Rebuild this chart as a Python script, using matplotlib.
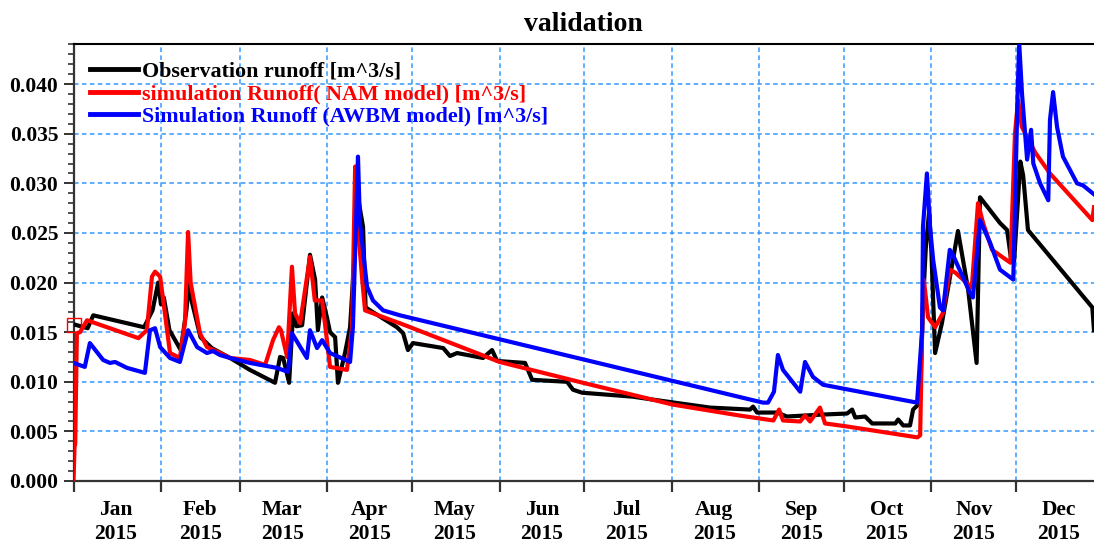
import numpy as np
import matplotlib
matplotlib.use("Agg")
import matplotlib.pyplot as plt
import matplotlib.dates as mdates
from matplotlib.ticker import MultipleLocator, FixedLocator, NullFormatter, FuncFormatter

# ---------------- data (day offset from 2015-01-01, runoff m^3/s) ----------------
obs_day = [0, 5, 7, 25, 28, 30, 31, 32, 34, 38, 40, 41, 42, 45, 49, 55.5, 62.5, 71.4,
           73.2, 74.3, 76.4, 77.8, 79, 81, 83.8, 85.6, 86.6, 88.1, 89.8, 90.9, 92.7,
           93.7, 96.2, 98, 100.8, 102.6, 103.5, 105.1, 114.6, 116.8, 118.5, 120.3, 131,
           133.4, 135.9, 145.1, 148.3, 150.1, 160, 162.5, 174.9, 177, 180.2, 198.2,
           205.4, 225.5, 239.7, 240.8, 242.2, 249.3, 252.8, 265.6, 274.1, 275.9, 277,
           280.5, 283, 291.2, 292.2, 294, 296.4, 297.5, 299.3, 300, 301, 302, 303.2, 304,
           305.3, 307.7, 313.4, 317, 320, 321.2, 328.3, 330.8, 332.2, 333.3, 335.5,
           336.5, 338.2, 361, 361.6]
obs_val = [0.0158, 0.0154, 0.0167, 0.0155, 0.0172, 0.0200, 0.0178, 0.0185, 0.0152,
           0.0132, 0.0172, 0.0200, 0.0180, 0.0145, 0.0134, 0.0124, 0.0112, 0.0099,
           0.0125, 0.0124, 0.0099, 0.0169, 0.0156, 0.0157, 0.0228, 0.0203, 0.0152,
           0.0185, 0.0165, 0.0150, 0.0145, 0.0099, 0.0129, 0.0155, 0.0286, 0.0256,
           0.0175, 0.0172, 0.0155, 0.0149, 0.0132, 0.0139, 0.0134, 0.0126, 0.0129,
           0.0124, 0.0132, 0.0121, 0.0119, 0.0102, 0.0100, 0.0092, 0.0089, 0.0085,
           0.0082, 0.0074, 0.0072, 0.0075, 0.0069, 0.0069, 0.0065, 0.0067, 0.0068,
           0.0072, 0.0064, 0.0065, 0.0058, 0.0058, 0.0062, 0.0056, 0.0056, 0.0072,
           0.0077, 0.0084, 0.0179, 0.0235, 0.0272, 0.0230, 0.0129, 0.0159, 0.0252,
           0.0193, 0.0119, 0.0286, 0.0260, 0.0253, 0.0224, 0.0222, 0.0322, 0.0308,
           0.0253, 0.0175, 0.0152]

nam_day = [0, 0.4, 0.6, 1.2, 2.3, 4.8, 23, 26, 27.8, 28.9, 30, 30.7, 34.2, 37.7, 39.5,
           40.6, 41.5, 44.8, 47.3, 51.9, 55.5, 62.5, 67.9, 70.7, 72.8, 73.5, 75.7, 77.4,
           78.5, 80.3, 83.8, 85.5, 88.1, 89.8, 90.9, 96.9, 98.7, 99.8, 100.5, 102.3,
           103.3, 114.6, 115.7, 151, 180.5, 212.4, 236, 248, 250, 251.4, 257.5, 259.2,
           261, 264.5, 266.3, 274, 299, 300, 300.7, 301.3, 302.8, 305.3, 308, 310.5,
           312.5, 318.3, 320.5, 322.3, 325.5, 332, 333.6, 334.7, 336, 340.8, 346, 361,
           361.6]
nam_val = [0.0, 0.0037, 0.0037, 0.0149, 0.0150, 0.0162, 0.0144, 0.0152, 0.0206, 0.0211,
           0.0208, 0.0206, 0.0129, 0.0124, 0.0160, 0.0251, 0.0200, 0.0149, 0.0135,
           0.0129, 0.0124, 0.0122, 0.0117, 0.0142, 0.0155, 0.0152, 0.0125, 0.0216,
           0.0169, 0.0159, 0.0226, 0.0182, 0.0182, 0.0142, 0.0115, 0.0112, 0.0155,
           0.0317, 0.0266, 0.0203, 0.0172, 0.0160, 0.0159, 0.0120, 0.0099, 0.0077,
           0.0066, 0.0061, 0.0072, 0.0061, 0.0060, 0.0066, 0.0060, 0.0074, 0.0058,
           0.0055, 0.0044, 0.0046, 0.0152, 0.0203, 0.0165, 0.0155, 0.0169, 0.0213,
           0.0210, 0.0195, 0.0280, 0.0260, 0.0233, 0.0220, 0.0350, 0.0384, 0.0357,
           0.0331, 0.0310, 0.0263, 0.0276]

awbm_day = [0, 4, 5.8, 10.5, 12.9, 14.7, 19, 25.3, 27.1, 28.9, 30.7, 34.2, 37.7, 40.6,
            43.8, 47.3, 49.4, 51.9, 55.5, 62.5, 72.1, 76, 77.4, 82.7, 83.8, 86.3, 88.1,
            90.9, 98, 99, 100.8, 101.5, 104, 106.1, 109.7, 115.7, 244.3, 246.1, 248.2,
            249.6, 251.4, 257.5, 259.2, 262, 265.6, 298.9, 300.7, 301, 302.4, 303.5,
            304.6, 307, 308.1, 310.5, 311.6, 317.6, 318.7, 321.2, 324.8, 328.3, 333,
            334.5, 335.1, 336.1, 337.9, 339.3, 340.1, 342.5, 345.4, 346, 347.1, 348.5,
            350.6, 355.6, 357.7, 361.6]
awbm_val = [0.0119, 0.0115, 0.0139, 0.0122, 0.0119, 0.0120, 0.0114, 0.0109, 0.0152,
            0.0154, 0.0135, 0.0124, 0.0120, 0.0152, 0.0135, 0.0129, 0.0131, 0.0127,
            0.0124, 0.0119, 0.0114, 0.0110, 0.0149, 0.0124, 0.0152, 0.0134, 0.0142,
            0.0129, 0.0120, 0.0155, 0.0327, 0.0260, 0.0196, 0.0182, 0.0172, 0.0167,
            0.0079, 0.0079, 0.0090, 0.0127, 0.0112, 0.0090, 0.0120, 0.0105, 0.0097,
            0.0079, 0.0152, 0.0256, 0.0310, 0.0256, 0.0223, 0.0175, 0.0172, 0.0233,
            0.0228, 0.0190, 0.0185, 0.0263, 0.0240, 0.0213, 0.0203, 0.0387, 0.0441,
            0.0390, 0.0324, 0.0354, 0.0320, 0.0300, 0.0283, 0.0364, 0.0392, 0.0357,
            0.0327, 0.0300, 0.0298, 0.0289]

labels = ["Observation runoff [m^3/s]",
          "simulation Runoff( NAM model) [m^3/s]",
          "Simulation Runoff (AWBM model) [m^3/s]"]
colors = ["#000000", "#ff0000", "#0000ff"]
title = "validation"

start = np.datetime64("2015-01-01T00:00")


def to_dates(days):
    return start + np.round(np.asarray(days, dtype=float) * 1440).astype("timedelta64[m]")


plt.rcParams["font.family"] = ["Liberation Serif", "DejaVu Serif"]
plt.rcParams["font.weight"] = "bold"

fig = plt.figure(figsize=(10.94, 5.44), dpi=100)
ax = fig.add_axes([73.5 / 1094, 1 - 481 / 544, 1 - 73.5 / 1094, (481 - 44) / 544])

grid_col = "#3399ff"
lines = []
for d, v, c, lab, z in [(obs_day, obs_val, colors[0], labels[0], 3),
                        (nam_day, nam_val, colors[1], labels[1], 4),
                        (awbm_day, awbm_val, colors[2], labels[2], 5)]:
    ln, = ax.plot(to_dates(d), v, color=c, lw=3.0, label=lab, zorder=z)
    lines.append(ln)

# small start marker
ax.plot(to_dates([0]), [0.0157], marker="s", ms=10, mfc="none", mec="#ff0000",
        mew=1.0, clip_on=False, zorder=6, ls="none")

x0 = start
x1 = to_dates([361.6])[0]
ax.set_xlim(x0, x1)
ax.set_ylim(0, 0.04405)

months = np.arange(np.datetime64("2015-01"), np.datetime64("2016-02")).astype("datetime64[D]")
mids = months[:-1] + (months[1:] - months[:-1]) / 2
ax.xaxis.set_major_locator(FixedLocator(mdates.date2num(months)))
ax.xaxis.set_major_formatter(NullFormatter())
ax.xaxis.set_minor_locator(FixedLocator(mdates.date2num(mids)))
ax.xaxis.set_minor_formatter(mdates.DateFormatter("%b\n%Y"))

ax.yaxis.set_major_locator(MultipleLocator(0.005))
ax.yaxis.set_minor_locator(MultipleLocator(0.001))
ax.yaxis.set_major_formatter(FuncFormatter(lambda v, p: f"{v:.3f}"))

ax.tick_params(axis="x", which="major", direction="out", length=8, width=1.6,
               color="#333333")
ax.tick_params(axis="x", which="minor", length=0, pad=14, labelsize=15.5)
ax.tick_params(axis="y", which="major", direction="out", length=7, width=1.4,
               color="#333333", pad=4, labelsize=15.5)
ax.tick_params(axis="y", which="minor", direction="out", length=4, width=1.2,
               color="#333333")
for t in ax.xaxis.get_minorticklabels():
    t.set_linespacing(1.25)
    t.set_fontweight("bold")
for t in ax.yaxis.get_majorticklabels():
    t.set_fontweight("bold")

ax.grid(True, which="major", color=grid_col, ls=(0, (3.0, 2.2)), lw=1.1, zorder=1)
ax.set_axisbelow(True)

ax.spines["right"].set_visible(False)
ax.spines["top"].set_color("#000000")
ax.spines["top"].set_linewidth(1.5)
ax.spines["left"].set_color("#333333")
ax.spines["left"].set_linewidth(1.6)
ax.spines["bottom"].set_color("#333333")
ax.spines["bottom"].set_linewidth(1.6)

ax.set_title(title, fontsize=20, fontweight="bold", pad=9)

leg = ax.legend(handles=lines, loc="upper left", bbox_to_anchor=(0.016, 0.96),
                frameon=False, borderpad=0, borderaxespad=0, handlelength=2.2,
                handletextpad=0.2, labelspacing=0.1,
                prop={"family": ["Liberation Serif"], "weight": "bold", "size": 15.8})
for txt, c in zip(leg.get_texts(), colors):
    txt.set_color(c)
for h in leg.legend_handles:
    h.set_linewidth(3.5)

fig.savefig("out.png", dpi=100)
